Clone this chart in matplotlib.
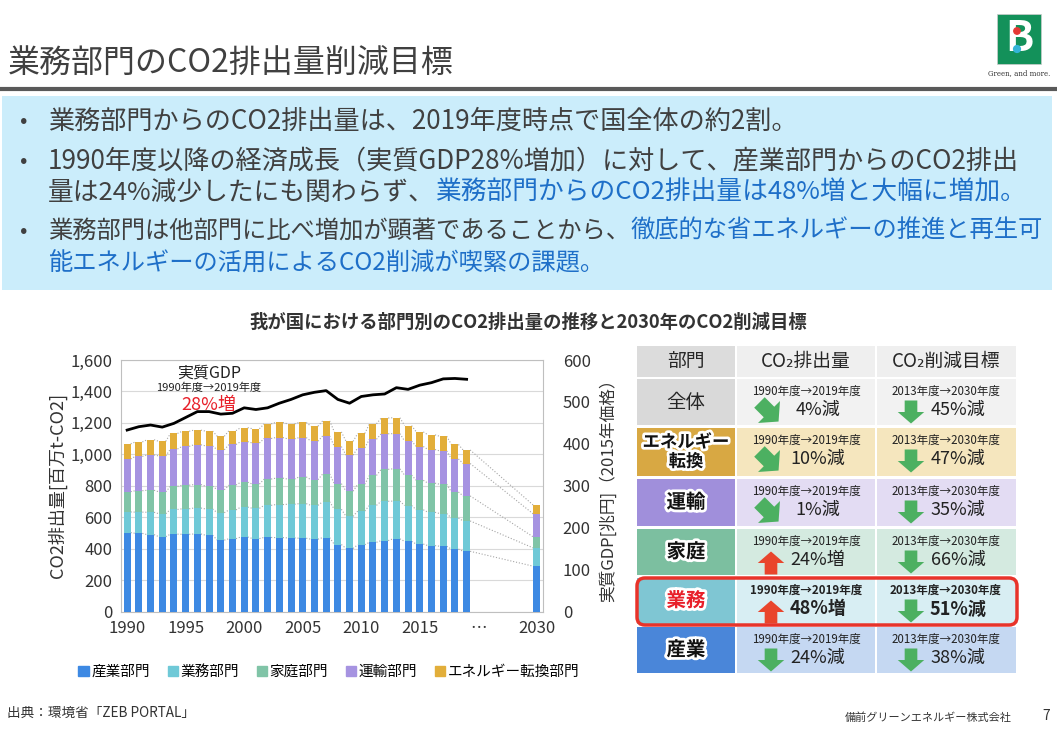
#------------------------------#
# IMPORT LIBRARIES
#------------------------------#

import numpy as np
import matplotlib
matplotlib.use('Agg')
import matplotlib.pyplot as plt
from matplotlib.patches import Rectangle, FancyBboxPatch, Polygon, Patch, Circle
import matplotlib.patheffects as pe

plt.rcParams['font.family'] = ['Noto Sans CJK JP', 'DejaVu Sans']

#------------------------------#
# DATA
#------------------------------#

years = list(range(1990, 2020)) + [2030]
industry = [503, 498, 490, 477, 493, 492, 494, 486, 455, 464, 475, 465, 472, 471, 469,
            467, 461, 471, 427, 402, 426, 441, 452, 463, 447, 430, 420, 416, 398, 384, 289]
commercial = [131, 135, 142, 146, 157, 162, 165, 167, 174, 183, 190, 192, 204, 210, 214,
              220, 215, 228, 224, 204, 214, 235, 250, 240, 228, 218, 212, 208, 197, 193, 116]
residential = [129, 136, 140, 139, 147, 150, 149, 145, 146, 158, 158, 154, 167, 168, 160,
               170, 163, 176, 163, 160, 170, 190, 203, 205, 193, 187, 185, 186, 166, 159, 70]
transport = [208, 218, 225, 228, 237, 247, 253, 256, 254, 258, 258, 261, 258, 258, 256,
             250, 245, 242, 236, 229, 232, 230, 226, 224, 217, 215, 214, 212, 210, 206, 146]
energy = [96, 92, 96, 93, 99, 96, 93, 94, 86, 88, 89, 91, 93, 96, 95,
          96, 95, 96, 93, 88, 91, 98, 100, 101, 98, 93, 93, 93, 92, 86, 56]
gdp_years = list(range(1990, 2020))
gdp = [433, 441, 445, 440, 449, 463, 477, 477, 471, 473, 486, 482, 486, 497, 506,
       517, 523, 527, 506, 497, 513, 517, 519, 534, 530, 540, 546, 555, 556, 554]

sector_names = ['産業部門', '業務部門', '家庭部門', '運輸部門', 'エネルギー転換部門']
sector_colors = ['#3D89E3', '#6FC9D7', '#80C4A7', '#A693E1', '#E2AE3A']
xtick_labels = ['1990', '1995', '2000', '2005', '2010', '2015', '…', '2030']

# table
tbl_header = ['部門', 'CO₂排出量', 'CO₂削減目標']
tbl_sectors = ['全体', 'エネルギー\n転換', '運輸', '家庭', '業務', '産業']
tbl_emis = ['4%減', '10%減', '1%減', '24%増', '48%増', '24%減']
tbl_emis_arrow = ['diag', 'diag', 'diag', 'up', 'up', 'down']
tbl_target = ['45%減', '47%減', '35%減', '66%減', '51%減', '38%減']
tbl_dark = ['#D9D9D9', '#D8A843', '#A08FDB', '#7CBFA0', '#7FC6D3', '#4A86D9']
tbl_light = ['#F2F2F2', '#F5E6BE', '#E3DCF3', '#D4EAE0', '#D8EEF3', '#C5D8F2']

#------------------------------#
# FIGURE
#------------------------------#

W, H = 1057, 730
fig = plt.figure(figsize=(W / 100, H / 100), dpi=100)
bg = fig.add_axes([0, 0, 1, 1])
bg.set_xlim(0, W)
bg.set_ylim(H, 0)
bg.axis('off')
renderer = fig.canvas.get_renderer()

GRAY = '#404040'
BLUE = '#1E6FC8'

# header
bg.text(8, 64, '業務部門のCO2排出量削減目標', fontsize=23, color=GRAY, va='center')
bg.plot([0, W], [89, 89], color='#595959', lw=3)
bg.add_patch(Rectangle((997, 14), 44, 50, facecolor='#13915A', edgecolor='#CCCCCC', lw=0.5))
bg.text(1019, 39, 'B', fontsize=30, fontweight='bold', color='white', ha='center', va='center')
bg.add_patch(Circle((1017, 31), 3.2, color='#E53935', zorder=5))
bg.add_patch(Circle((1017, 49), 3.4, color='#34B4D8', zorder=5))
bg.text(1019, 73, 'Green, and more.', fontsize=5, color='#333333', ha='center', va='center',
        family='DejaVu Serif')

# blue box with bullets
bg.add_patch(Rectangle((2, 96), 1050, 194, facecolor='#CBEDFB', edgecolor='none'))


def colored_line(x, y, parts, fs):
    for s, c in parts:
        t = bg.text(x, y, s, color=c, fontsize=fs, va='center', ha='left')
        x += t.get_window_extent(renderer=renderer).width


for yb in [121, 161, 231]:
    bg.text(20, yb, '•', fontsize=16, color=GRAY, va='center')
colored_line(48, 121, [('業務部門からのCO2排出量は、2019年度時点で国全体の約2割。', GRAY)], 18.8)
colored_line(48, 161, [('1990年度以降の経済成長（実質GDP28%増加）に対して、産業部門からのCO2排出', GRAY)], 18.8)
colored_line(48, 193, [('量は24%減少したにも関わらず、', GRAY),
                       ('業務部門からのCO2排出量は48%増と大幅に増加。', BLUE)], 18.5)
colored_line(48, 231, [('業務部門は他部門に比べ増加が顕著であることから、', GRAY),
                       ('徹底的な省エネルギーの推進と再生可', BLUE)], 17.5)
colored_line(48, 263, [('能エネルギーの活用によるCO2削減が喫緊の課題。', BLUE)], 17.5)

bg.text(528, 322, '我が国における部門別のCO2排出量の推移と2030年のCO2削減目標',
        fontsize=13.2, fontweight='bold', color='#333333', ha='center', va='center')

# footer
bg.text(7, 713, '出典：環境省「ZEB PORTAL」', fontsize=9.8, color='#333333', va='center')
bg.text(1012, 718, '備前グリーンエネルギー株式会社', fontsize=8, color='#333333', va='center', ha='right')
bg.text(1046, 716, '7', fontsize=10, color='#333333', va='center', ha='center')

#------------------------------#
# STACKED BAR CHART
#------------------------------#

pos = np.array([y - 1990 if y < 2030 else 35 for y in years])
series = [industry, commercial, residential, transport, energy]
width = 0.6

ax = fig.add_axes([120.7 / W, 1 - 611.7 / H, 422.6 / W, 251.7 / H])
ax.set_facecolor('white')
bottom = np.zeros(len(pos))
tops = []
for vals, col in zip(series, sector_colors):
    vals = np.array(vals, dtype=float)
    ax.bar(pos, vals, width=width, bottom=bottom, color=col, zorder=3)
    bottom = bottom + vals
    tops.append(bottom.copy())

# series lines between bar edges
for top in tops:
    for i in range(len(pos) - 1):
        ax.plot([pos[i] + width / 2, pos[i + 1] - width / 2], [top[i], top[i + 1]],
                color='#A6A6A6', lw=0.8, ls=':', zorder=2)

ax.set_xlim(-0.55, 35.55)
ax.set_ylim(0, 1600)
ax.set_yticks(range(0, 1601, 200))
ax.set_yticklabels(['{:,}'.format(v) for v in range(0, 1601, 200)])
ax.set_xticks([0, 5, 10, 15, 20, 25, 30, 35])
ax.set_xticklabels(xtick_labels)
ax.tick_params(length=0, labelsize=12, colors='#333333', pad=6)
ax.grid(axis='y', color='#D9D9D9', lw=0.8, zorder=0)
for s in ax.spines.values():
    s.set_color('#BFBFBF')
    s.set_linewidth(0.8)
ax.set_ylabel('CO2排出量[百万t-CO2]', fontsize=13, color='#333333', labelpad=2)

ax2 = ax.twinx()
ax2.plot(np.array(gdp_years) - 1990, gdp, color='black', lw=2, zorder=5)
ax2.set_ylim(0, 600)
ax2.set_yticks(range(0, 601, 100))
ax2.tick_params(length=0, labelsize=12, colors='#333333', pad=14)
for s in ax2.spines.values():
    s.set_visible(False)
ax2.set_ylabel('実質GDP[兆円]（2015年価格）', fontsize=12, color='#333333', labelpad=6)

ax2.text(209, 373, '実質GDP', fontsize=11.5, color='#222222', ha='center', va='center',
         transform=bg.transData)
ax2.text(209, 388, '1990年度→2019年度', fontsize=8, color='#222222', ha='center', va='center',
         transform=bg.transData)
ax2.text(209, 405, '28%増', fontsize=13, color='#E8202A', ha='center', va='center',
         transform=bg.transData)

handles = [Patch(color=c) for c in sector_colors]
fig.legend(handles, sector_names, loc='center', bbox_to_anchor=(329 / W, 1 - 672 / H), ncol=5,
           frameon=False, fontsize=10.5, handlelength=0.7, handleheight=0.7,
           handletextpad=0.2, columnspacing=1.2)

#------------------------------#
# TABLE
#------------------------------#


def block_arrow(cx, cy, L, angle, color):
    hl, hw, sw = 0.5 * L, 1.15 * L, 0.55 * L
    p = np.array([[-L / 2, -sw / 2], [L / 2 - hl, -sw / 2], [L / 2 - hl, -hw / 2], [L / 2, 0],
                  [L / 2 - hl, hw / 2], [L / 2 - hl, sw / 2], [-L / 2, sw / 2]])
    a = np.deg2rad(angle)
    rot = np.array([[np.cos(a), -np.sin(a)], [np.sin(a), np.cos(a)]])
    p = p @ rot.T + [cx, cy]
    bg.add_patch(Polygon(p, closed=True, facecolor=color, edgecolor='none', zorder=4))


col_x = [(637, 735), (737, 875), (877, 1016)]
row_y = [(346, 377), (379, 425), (428, 476), (479, 526), (529, 575), (578, 624), (627, 673)]
GREEN_ARR = '#4CB061'
RED_ARR = '#E9452C'

# header row
for j, (x0, x1) in enumerate(col_x):
    y0, y1 = row_y[0]
    bg.add_patch(Rectangle((x0, y0), x1 - x0, y1 - y0,
                           facecolor='#DCDCDC' if j == 0 else '#EFEFEF', edgecolor='none'))
    bg.text((x0 + x1) / 2, (y0 + y1) / 2, tbl_header[j], fontsize=13.5, color='#262626',
            ha='center', va='center')

for i in range(len(tbl_sectors)):
    y0, y1 = row_y[i + 1]
    bold = tbl_sectors[i] == '業務'
    fw = 'bold' if bold else 'normal'
    for j, (x0, x1) in enumerate(col_x):
        bg.add_patch(Rectangle((x0, y0), x1 - x0, y1 - y0,
                               facecolor=tbl_dark[i] if j == 0 else tbl_light[i], edgecolor='none'))
    # sector name
    if i == 0:
        bg.text(686, (y0 + y1) / 2, tbl_sectors[i], fontsize=14, color='#262626',
                ha='center', va='center')
    else:
        fs = 12.5 if '\n' in tbl_sectors[i] else 14
        bg.text(686, (y0 + y1) / 2, tbl_sectors[i], fontsize=fs, fontweight='bold',
                color='#E8202A' if bold else '#111111', ha='center', va='center', linespacing=1.1,
                path_effects=[pe.withStroke(linewidth=4, foreground='white')])
    # emissions change
    bg.text(806, y0 + 12, '1990年度→2019年度', fontsize=8.3, fontweight=fw, color='#222222',
            ha='center', va='center')
    bg.text(818, y0 + 31, tbl_emis[i], fontsize=13, fontweight=fw, color='#222222',
            ha='center', va='center')
    kind = tbl_emis_arrow[i]
    if kind == 'diag':
        block_arrow(769, y0 + 33, 27, 45, GREEN_ARR)
    elif kind == 'up':
        block_arrow(771, y0 + 34, 23, -90, RED_ARR)
    else:
        block_arrow(771, y0 + 33, 23, 90, GREEN_ARR)
    # target
    bg.text(946, y0 + 12, '2013年度→2030年度', fontsize=8.3, fontweight=fw, color='#222222',
            ha='center', va='center')
    bg.text(958, y0 + 31, tbl_target[i], fontsize=13, fontweight=fw, color='#222222',
            ha='center', va='center')
    block_arrow(911, y0 + 33, 23, 90, GREEN_ARR)

bg.add_patch(FancyBboxPatch((637, 578), 380, 47, boxstyle='round,pad=0,rounding_size=8',
                            facecolor='none', edgecolor='#E8332A', lw=2.5, zorder=6))

fig.savefig('out.png', dpi=100)
